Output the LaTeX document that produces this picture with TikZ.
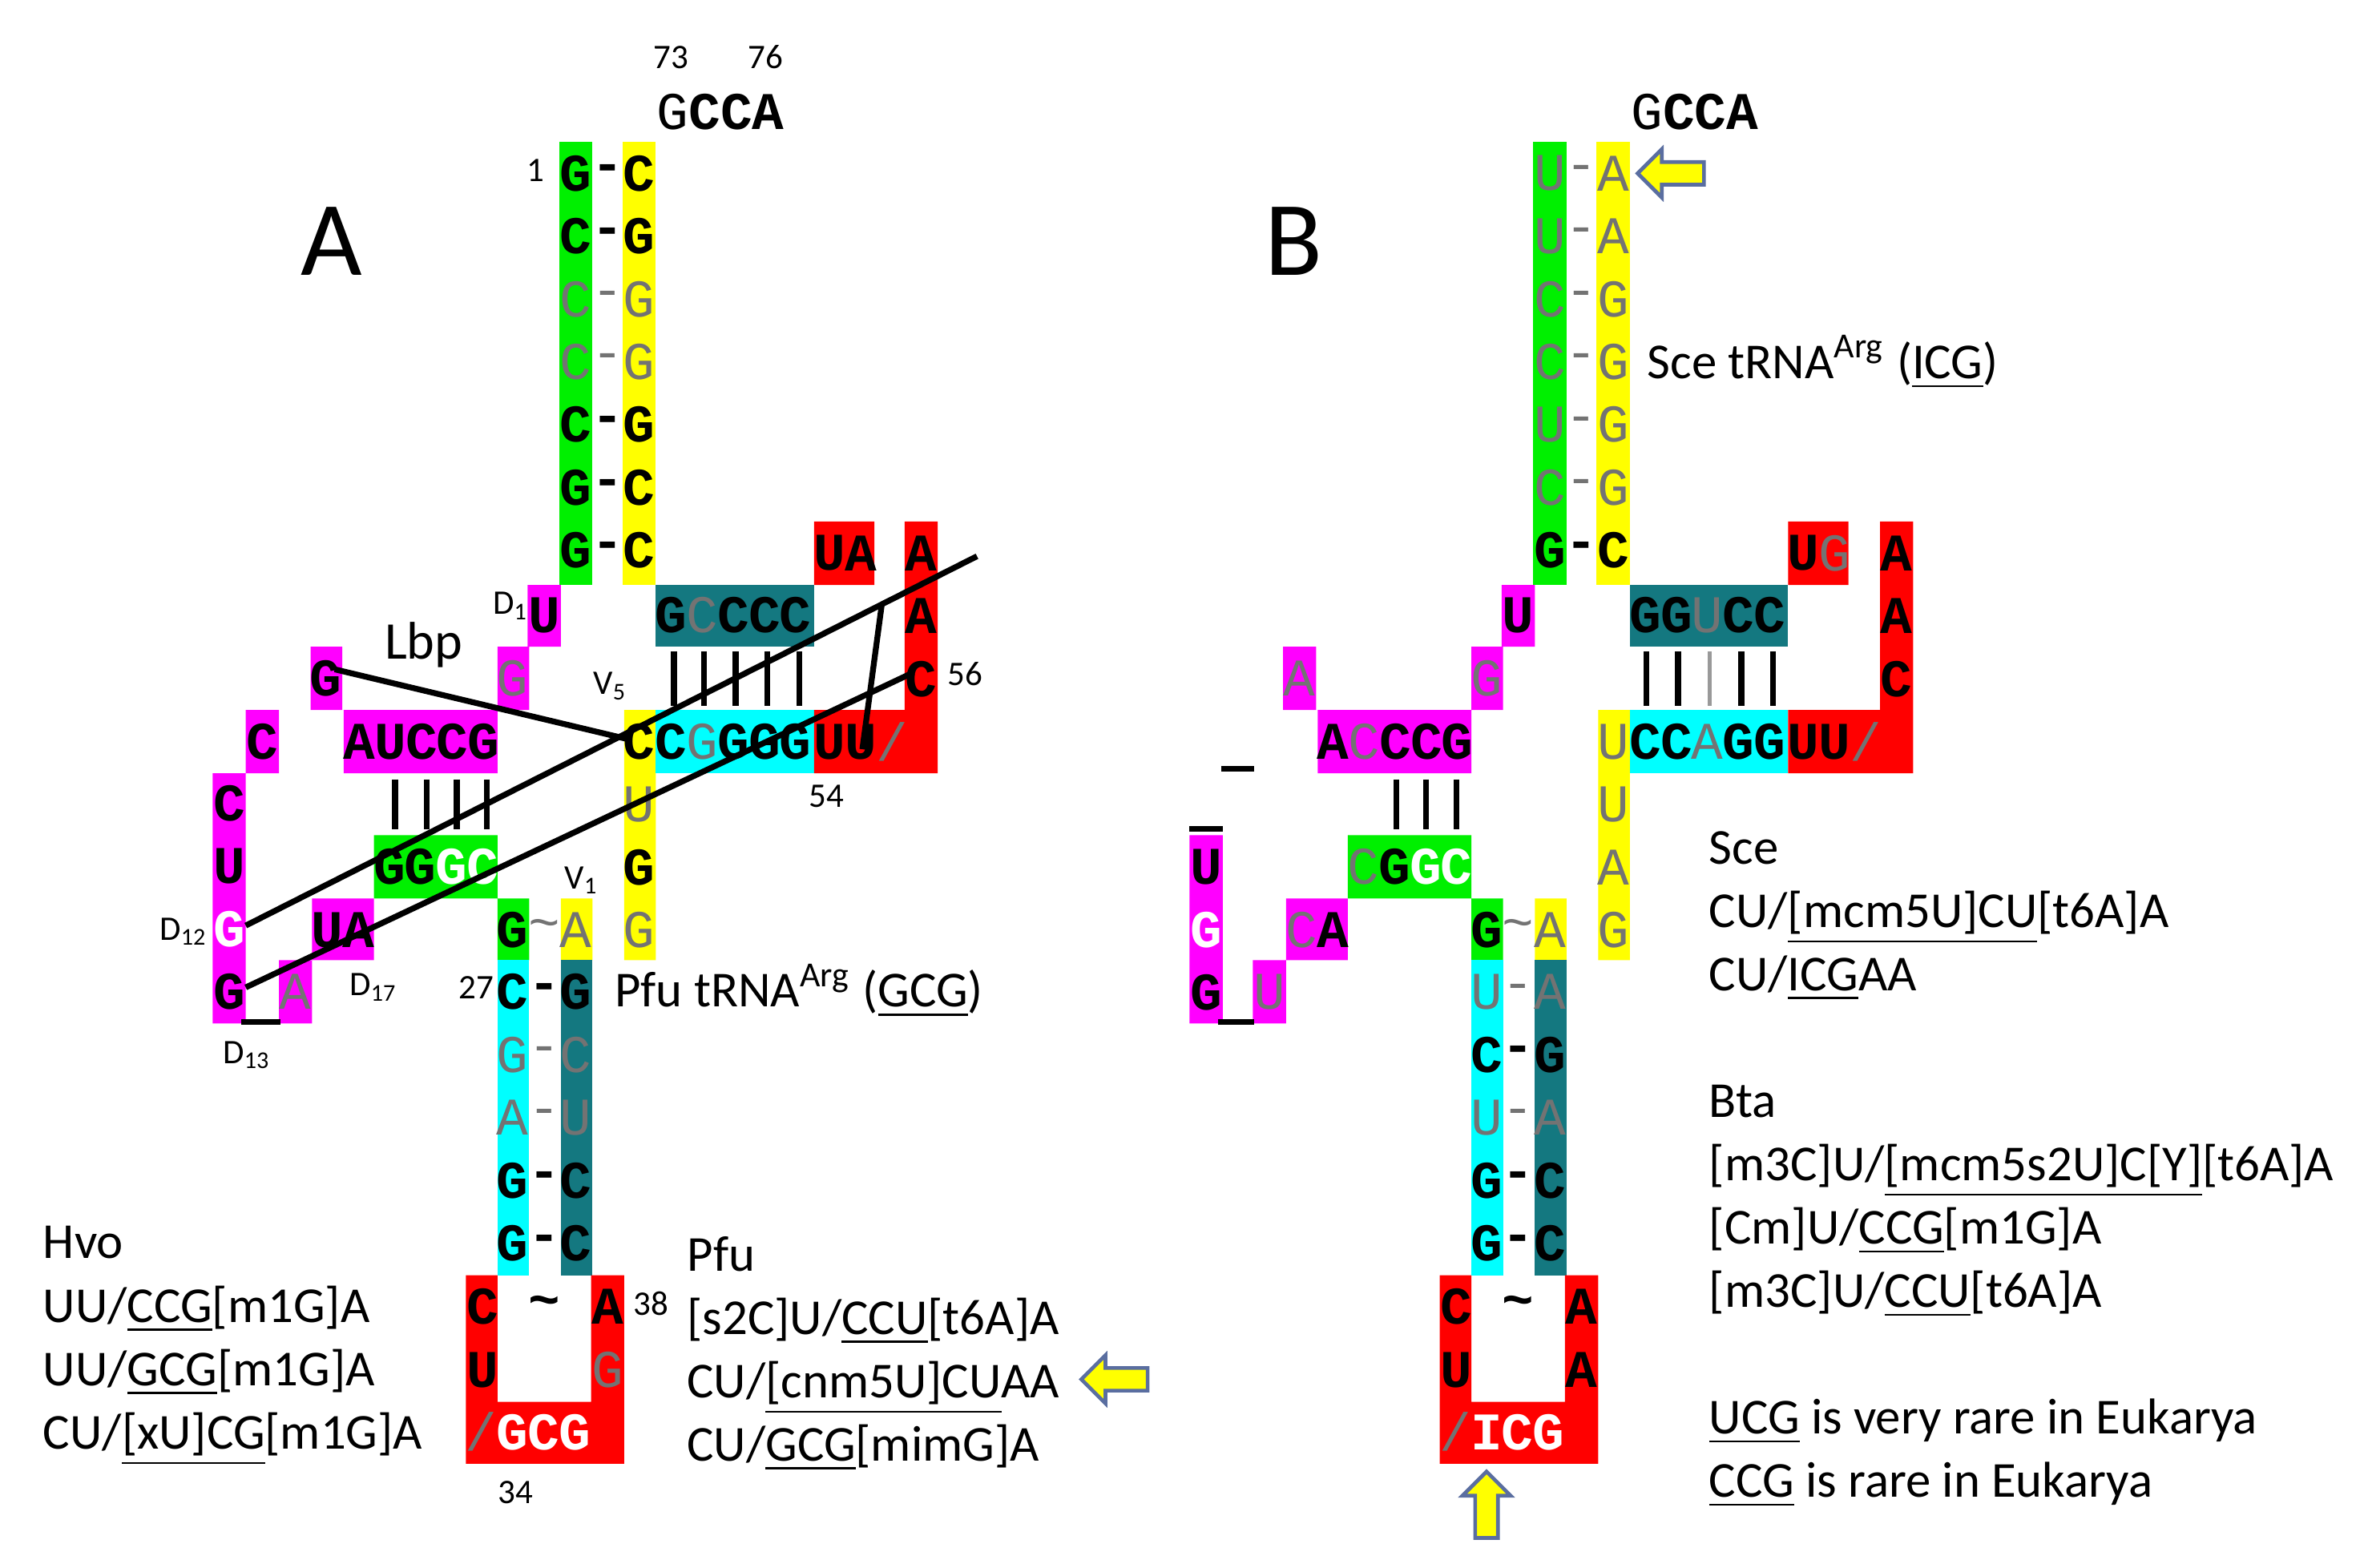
\documentclass[tikz,border=0pt]{standalone}
\usepackage{fontspec}
\setmainfont{Carlito}
\newfontfamily\monob{Liberation Mono}
\usetikzlibrary{shapes.arrows}
\definecolor{mg}{RGB}{255,0,255}
\definecolor{gr}{RGB}{0,240,0}
\definecolor{yl}{RGB}{255,255,0}
\definecolor{cy}{RGB}{0,255,255}
\definecolor{tl}{RGB}{20,120,128}
\definecolor{rd}{RGB}{255,0,0}
\definecolor{arr}{RGB}{90,110,160}
\tikzset{
  bb/.style={font=\monob\bfseries\fontsize{10}{10}\selectfont, inner sep=0, text=black},
  ll/.style={font=\monob\fontsize{10}{10}\selectfont, inner sep=0, text=black!55},
  ww/.style={font=\monob\bfseries\fontsize{10}{10}\selectfont, inner sep=0, text=white},
  num/.style={font=\fontsize{6.5}{7}\selectfont, inner sep=0},
  note/.style={font=\fontsize{9.5}{12.2}\selectfont, inner sep=0, anchor=base west},
  bar/.style={line width=1.1pt},
  lite/.style={line width=0.8pt, black!40},
  link/.style={line width=1.1pt},
  yarrow/.style={single arrow, draw=arr, fill=yl, line width=0.7pt, minimum height=4.4mm, minimum width=3.2mm, single arrow head extend=0.7mm, inner sep=0.5mm}
}
% horizontal and vertical runs of bases, and stacked text lines
\newcommand\hseq[3]{\foreach \s/\t [count=\i] in {#3} \node[\s] (h-#1-#2-\i) at ({#1+20.6*(\i-0.5)},#2) {\t};}
\newcommand\vseq[3]{\foreach \s/\t [count=\i] in {#3} \node[\s] (v-#1-#2-\i) at (#1,{#2+41.7*(\i-1)}) {\t};}
\newcommand\tlines[3]{\foreach \l [count=\i] in {#3} \node[note] (t-#1-#2-\i) at (#1,{#2+42*(\i-1)}) {\l};}
\begin{document}
\begin{tikzpicture}[x=0.1mm,y=-0.1mm]
  \useasboundingbox (0,0) rectangle (1568,1040);

  % ---------- panel A ----------
  % coloured blocks
  \fill[gr] (371,94) rectangle (393,388);
  \fill[yl] (413,94) rectangle (435,388);
  \fill[mg] (350,388) rectangle (372,429) (330,429) rectangle (351,471) (206,429) rectangle (227,471)
            (228,471) rectangle (330,513) (163,471) rectangle (185,513) (141,513) rectangle (163,679)
            (207,596) rectangle (248,637) (185,637) rectangle (207,679);
  \fill[gr] (248,554) rectangle (330,596) (330,596) rectangle (351,637);
  \fill[yl] (414,471) rectangle (435,637) (372,596) rectangle (393,637);
  \fill[tl] (435,388) rectangle (540,429);
  \fill[cy] (435,471) rectangle (540,513);
  \fill[rd] (540,471) rectangle (600,513) (540,346) rectangle (580,388) (600,346) rectangle (622,513);
  \fill[cy] (330,637) rectangle (351,846);
  \fill[tl] (372,637) rectangle (393,846);
  \fill[rd] (309,846) rectangle (330,971) (392,846) rectangle (414,930) (309,930) rectangle (414,971);

  % bases
  \vseq{382}{115}{bb/G,bb/C,ll/C,ll/C,bb/C,bb/G,bb/G}
  \vseq{403}{115}{bb/-,bb/-,ll/-,ll/-,bb/-,bb/-,bb/-}
  \vseq{424}{115}{bb/C,bb/G,ll/G,ll/G,bb/G,bb/C,bb/C}
  \node[bb] (aD1) at (361,408) {U};
  \node[ll] (aG1) at (340,450) {G};
  \node[bb] (aG2) at (216,450) {G};
  \hseq{228}{492}{bb/A,bb/U,bb/C,bb/C,bb/G}
  \node[bb] (aC1) at (174,492) {C};
  \vseq{152}{533}{bb/C,bb/U,ww/G,bb/G}
  \hseq{207}{617}{bb/U,bb/A}
  \node[ll] (aA1) at (196,658) {A};
  \hseq{248}{575}{bb/G,bb/G,ww/G,ww/C}
  \node[bb] (aG3) at (340,617) {G};
  \node[ll] (aT1) at (361,617) {\textasciitilde};
  \node[ll] (aA2) at (382,617) {A};
  \vseq{424}{492}{bb/C,ll/U,bb/G,ll/G}
  \hseq{435}{408}{bb/G,ll/C,bb/C,bb/C,bb/C}
  \hseq{435}{492}{bb/C,ll/G,bb/G,bb/G,bb/G}
  \hseq{540}{492}{bb/U,bb/U,ll/\slash}
  \hseq{540}{367}{bb/U,bb/A}
  \vseq{611}{367}{bb/A,bb/A,bb/C}
  \vseq{340}{658}{bb/C,ll/G,ll/A,bb/G,bb/G}
  \vseq{361}{658}{bb/-,ll/-,ll/-,bb/-,bb/-}
  \vseq{382}{658}{bb/G,ll/C,ll/U,bb/C,bb/C}
  \vseq{320}{867}{bb/C,bb/U}
  \vseq{403}{867}{bb/A,ll/G}
  \node[bb] (aT2) at (361,867) {\textasciitilde};
  \hseq{309}{950}{ll/\slash,ww/G,ww/C,ww/G}

  % pairing bars
  \foreach \x in {262,283,303,323} \draw[bar] (\x,517) -- (\x,550);
  \foreach \x in {447,467,488,509,530} \draw[bar] (\x,432) -- (\x,468);
  \draw[bar] (160,678) -- (186,678);

  % tertiary contacts
  \coordinate (pA) at (222,444);
  \coordinate (pC) at (415,490);
  \coordinate (pB) at (163,614);
  \coordinate (pE) at (648,369);
  \coordinate (pF) at (163,655);
  \coordinate (pG) at (606,446);
  \draw[link] (pA) -- (pC);
  \draw[link] (pB) -- (pE);
  \draw[link] (pF) -- (pG);
  \draw[link] (585,400) -- (572,497);

  % labels
  \node[font=\fontsize{20}{20}\selectfont] (lblA) at (220,160) {A};
  \node[font=\fontsize{10}{10}\selectfont] (lbp) at (281,428) {Lbp};
  \node[num] (n1) at (355,113) {1};
  \node[num] (n73) at (445,38) {73};
  \node[num] (n76) at (508,38) {76};
  \node[font=\monob\fontsize{10}{10}\selectfont\bfseries] (ccaA) at (478,74) {{\mdseries G}CCA};
  \node[num] (nD1) at (339,402) {D\textsubscript{1}};
  \node[num] (nV5) at (405,455) {V\textsubscript{5}};
  \node[num] (n56) at (640,447) {56};
  \node[num] (n54) at (548,528) {54};
  \node[num] (nD12) at (122,618) {D\textsubscript{12}};
  \node[num] (nD17) at (248,655) {D\textsubscript{17}};
  \node[num] (nD13) at (164,700) {D\textsubscript{13}};
  \node[num] (nV1) at (386,584) {V\textsubscript{1}};
  \node[num] (n27) at (316,655) {27};
  \node[num] (n38) at (432,865) {38};
  \node[num] (n34) at (342,990) {34};
  \node[note] (pfuT) at (407,668) {Pfu tRNA\textsuperscript{Arg} (\underline{GCG})};
  \tlines{28}{835}{Hvo,{UU/\underline{CCG}[m1G]A},{UU/\underline{GCG}[m1G]A},{CU/\underline{[xU]CG}[m1G]A}}
  \tlines{455}{843}{Pfu,{{}[s2C]U/\underline{CCU}[t6A]A},{CU/\underline{[cnm5U]CU}AA},{CU/\underline{GCG}[mimG]A}}
  \node[yarrow, shape border rotate=180] (arrA) at (743,915) {};

  % ---------- panel B ----------
  \fill[gr] (1017,94) rectangle (1039,388);
  \fill[yl] (1059,94) rectangle (1081,388);
  \fill[mg] (996,388) rectangle (1018,429) (976,429) rectangle (997,471) (851,429) rectangle (873,471)
            (874,471) rectangle (976,513) (789,554) rectangle (811,679)
            (853,596) rectangle (894,637) (831,637) rectangle (853,679);
  \fill[gr] (894,554) rectangle (976,596) (976,596) rectangle (997,637);
  \fill[yl] (1060,471) rectangle (1081,637) (1018,596) rectangle (1039,637);
  \fill[tl] (1081,388) rectangle (1186,429);
  \fill[cy] (1081,471) rectangle (1186,513);
  \fill[rd] (1186,471) rectangle (1247,513) (1186,346) rectangle (1226,388) (1247,346) rectangle (1269,513);
  \fill[cy] (976,637) rectangle (997,846);
  \fill[tl] (1018,637) rectangle (1039,846);
  \fill[rd] (955,846) rectangle (976,971) (1038,846) rectangle (1060,930) (955,930) rectangle (1060,971);

  \vseq{1028}{115}{ll/U,ll/U,ll/C,ll/C,ll/U,ll/C,bb/G}
  \vseq{1049}{115}{ll/-,ll/-,ll/-,ll/-,ll/-,ll/-,bb/-}
  \vseq{1070}{115}{ll/A,ll/A,ll/G,ll/G,ll/G,ll/G,bb/C}
  \node[bb] (bD1) at (1007,408) {U};
  \node[ll] (bG1) at (986,450) {G};
  \node[ll] (bA1) at (862,450) {A};
  \hseq{874}{492}{bb/A,ll/C,bb/C,bb/C,bb/G}
  \vseq{800}{575}{bb/U,ww/G,bb/G}
  \hseq{853}{617}{ll/C,bb/A}
  \node[ll] (bU1) at (842,658) {U};
  \hseq{894}{575}{ll/C,bb/G,ww/G,ww/C}
  \node[bb] (bG3) at (986,617) {G};
  \node[ll] (bT1) at (1007,617) {\textasciitilde};
  \node[ll] (bA2) at (1028,617) {A};
  \vseq{1070}{492}{ll/U,ll/U,ll/A,ll/G}
  \hseq{1081}{408}{bb/G,bb/G,ll/U,bb/C,bb/C}
  \hseq{1081}{492}{bb/C,bb/C,ll/A,bb/G,bb/G}
  \hseq{1186}{492}{bb/U,bb/U,ll/\slash}
  \hseq{1186}{367}{bb/U,ll/G}
  \vseq{1258}{367}{bb/A,bb/A,bb/C}
  \vseq{986}{658}{ll/U,bb/C,ll/U,bb/G,bb/G}
  \vseq{1007}{658}{ll/-,bb/-,ll/-,bb/-,bb/-}
  \vseq{1028}{658}{ll/A,bb/G,ll/A,bb/C,bb/C}
  \vseq{966}{867}{bb/C,bb/U}
  \vseq{1049}{867}{bb/A,bb/A}
  \node[bb] (bT2) at (1007,867) {\textasciitilde};
  \hseq{955}{950}{ll/\slash,ww/I,ww/C,ww/G}

  \foreach \x in {926,946,966} \draw[bar] (\x,517) -- (\x,550);
  \foreach \x in {1092,1113,1155,1176} \draw[bar] (\x,432) -- (\x,468);
  \draw[lite] (1134,432) -- (1134,468);
  \draw[bar] (808,678) -- (832,678);
  \draw[bar] (789,550) -- (811,550);
  \draw[bar] (810,510) -- (832,510);

  \node[font=\fontsize{20}{20}\selectfont] (lblB) at (858,160) {B};
  \node[font=\monob\fontsize{10}{10}\selectfont\bfseries] (ccaB) at (1124,74) {{\mdseries G}CCA};
  \node[yarrow, shape border rotate=180] (arrB) at (1112,115) {};
  \node[yarrow, shape border rotate=90] (arrC) at (986,1002) {};
  \node[note] (sceT) at (1092,251) {Sce tRNA\textsuperscript{Arg} (\underline{ICG})};
  \tlines{1133}{573}{Sce,{CU/\underline{[mcm5U]CU}[t6A]A},{CU/\underline{ICG}AA}}
  \tlines{1133}{741}{Bta,{{}[m3C]U/\underline{[mcm5s2U]C[Y]}[t6A]A},{{}[Cm]U/\underline{CCG}[m1G]A},{{}[m3C]U/\underline{CCU}[t6A]A},{},{\underline{UCG} is very rare in Eukarya},{\underline{CCG} is rare in Eukarya}}
\end{tikzpicture}
\end{document}
